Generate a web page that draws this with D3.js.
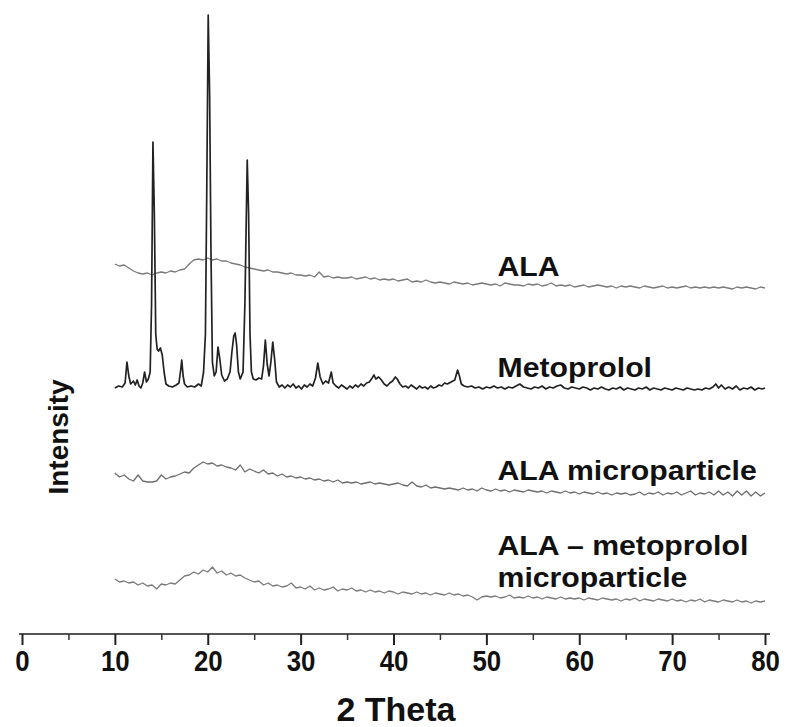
<!DOCTYPE html>
<html>
<head>
<meta charset="utf-8">
<script src="https://cdn.jsdelivr.net/npm/d3@7"></script>
<style type="text/css">
    body{ margin: 0; background: #fff; }
    svg text{ font-family: "Liberation Sans", Arial, sans-serif; font-weight: bold; fill: #111; }
    .trace{ fill: none; stroke-linejoin: round; }
</style>
</head>
<body>
<script type="text/javascript">
var width = 787,
    height = 727;

// 2 theta sampling of the three amorphous scans
var scanAngles = [
    10, 10.5, 11, 11.5, 12, 12.5, 13, 13.5, 14, 14.5,
    15, 15.5, 16, 16.5, 17, 17.5, 18, 18.5, 19, 19.5,
    20, 20.5, 21, 21.5, 22, 22.5, 23, 23.5, 24, 24.5,
    25, 25.5, 26, 26.5, 27, 27.5, 28, 28.5, 29, 29.5,
    30, 30.5, 31, 31.5, 32, 32.5, 33, 33.5, 34, 34.5,
    35, 35.5, 36, 36.5, 37, 37.5, 38, 38.5, 39, 39.5,
    40, 40.5, 41, 41.5, 42, 42.5, 43, 43.5, 44, 44.5,
    45, 45.5, 46, 46.5, 47, 47.5, 48, 48.5, 49, 49.5,
    50, 50.5, 51, 51.5, 52, 52.5, 53, 53.5, 54, 54.5,
    55, 55.5, 56, 56.5, 57, 57.5, 58, 58.5, 59, 59.5,
    60, 60.5, 61, 61.5, 62, 62.5, 63, 63.5, 64, 64.5,
    65, 65.5, 66, 66.5, 67, 67.5, 68, 68.5, 69, 69.5,
    70, 70.5, 71, 71.5, 72, 72.5, 73, 73.5, 74, 74.5,
    75, 75.5, 76, 76.5, 77, 77.5, 78, 78.5, 79, 79.5,
    80
];

// intensities (a.u., stacked)
var ala = [
    370, 368, 369, 366, 363, 361, 360, 361, 359, 361,
    362, 361, 363, 362, 364, 365, 370, 374, 375, 374,
    376, 374, 375, 373, 373, 371, 370, 369, 367, 366,
    365, 364, 363, 364, 362, 362, 361, 360, 361, 359,
    359, 358, 359, 357, 362, 357, 358, 356, 357, 356,
    356, 357, 355, 356, 357, 355, 356, 354, 355, 354,
    355, 353, 354, 355, 352, 353, 352, 354, 352, 351,
    352, 351, 350, 352, 351, 350, 351, 349, 350, 351,
    350, 349, 350, 348, 351, 350, 349, 349, 348, 350,
    349, 350, 348, 349, 351, 348, 349, 348, 349, 347,
    348, 349, 347, 348, 349, 348, 347, 348, 346, 348,
    347, 348, 347, 346, 348, 347, 346, 347, 348, 346,
    347, 346, 347, 348, 346, 347, 346, 347, 346, 347,
    346, 347, 346, 345, 347, 346, 347, 346, 345, 347,
    346
];

var alaMicro = [
    161, 157, 159, 155, 153, 159, 153, 152, 152, 153,
    159, 155, 157, 158, 160, 162, 161, 166, 169, 172,
    170, 171, 168, 169, 167, 166, 164, 169, 162, 165,
    163, 161, 164, 160, 161, 158, 160, 157, 158, 156,
    157, 155, 156, 154, 155, 153, 154, 152, 154, 151,
    152, 151, 152, 150, 151, 152, 150, 151, 150, 149,
    150, 151, 149, 148, 152, 148, 147, 149, 146, 147,
    146, 145, 146, 145, 144, 146, 144, 145, 143, 146,
    144, 143, 145, 143, 144, 142, 144, 143, 142, 144,
    143, 142, 143, 141, 143, 142, 141, 143, 141, 142,
    140, 142, 141, 140, 142, 140, 141, 139, 141, 140,
    141, 139, 140, 142, 139, 141, 140, 142, 139, 141,
    140, 142, 139, 141, 143, 139, 141, 140, 142, 139,
    143, 139, 142, 138, 143, 139, 143, 138, 142, 138,
    141
];

var alaMetoMicro = [
    55, 52, 53, 51, 52, 49, 51, 48, 49, 45,
    50, 49, 51, 50, 54, 58, 59, 62, 60, 64,
    62, 67, 61, 63, 59, 61, 58, 59, 56, 54,
    52, 53, 49, 51, 48, 49, 47, 48, 51, 46,
    47, 45, 48, 44, 46, 44, 45, 47, 43, 45,
    44, 46, 43, 44, 42, 44, 42, 43, 41, 43,
    42, 40, 42, 41, 40, 42, 40, 41, 39, 41,
    40, 39, 41, 39, 40, 38, 39, 37, 34, 37,
    38, 37, 38, 36, 37, 39, 36, 37, 36, 38,
    36, 37, 35, 37, 36, 35, 37, 35, 36, 35,
    36, 34, 36, 35, 34, 36, 35, 34, 35, 33,
    35, 34, 36, 33, 35, 34, 33, 35, 34, 33,
    35, 33, 34, 32, 34, 33, 35, 32, 34, 33,
    32, 34, 33, 32, 34, 32, 33, 31, 33, 32,
    33
];

// metoprolol scan: [2 theta, intensity]
var metoprolol = [
    [10.0,246],[10.4,248],[10.8,247],[11.1,251],[11.3,272],[11.5,258],[11.7,250],[12.0,253],[12.2,249],[12.4,254],
    [12.6,248],[12.8,246],[13.0,251],[13.2,262],[13.4,252],[13.6,255],[13.8,262],[13.95,330],[14.1,492],[14.25,420],
    [14.4,300],[14.55,285],[14.7,283],[14.9,286],[15.1,279],[15.3,262],[15.5,250],[15.8,248],[16.2,247],[16.6,249],
    [16.9,251],[17.1,265],[17.2,274],[17.35,258],[17.5,250],[17.8,247],[18.2,248],[18.6,247],[19.0,250],[19.3,248],
    [19.55,262],[19.75,300],[19.9,450],[20.05,619],[20.2,540],[20.35,380],[20.5,272],[20.7,258],[20.9,262],[21.1,287],
    [21.3,275],[21.5,259],[21.8,253],[22.1,255],[22.4,262],[22.6,282],[22.8,298],[22.95,301],[23.1,290],[23.3,262],
    [23.5,255],[23.8,262],[24.0,330],[24.25,474],[24.4,420],[24.55,300],[24.7,262],[24.9,255],[25.2,254],[25.5,256],
    [25.8,255],[26.0,268],[26.2,294],[26.4,270],[26.6,258],[26.8,272],[27.0,292],[27.2,275],[27.4,252],[27.7,247],
    [28.0,249],[28.3,246],[28.6,249],[28.9,247],[29.2,250],[29.5,246],[29.8,248],[30.1,245],[30.4,249],[30.7,247],
    [31.0,250],[31.3,248],[31.6,256],[31.85,271],[32.1,257],[32.4,250],[32.7,253],[33.0,251],[33.3,262],[33.5,251],
    [33.8,248],[34.1,246],[34.4,249],[34.7,247],[35.0,245],[35.3,248],[35.6,246],[35.9,249],[36.2,247],[36.5,250],
    [36.8,248],[37.1,251],[37.4,252],[37.7,256],[37.9,259],[38.1,255],[38.4,257],[38.7,254],[39.0,250],[39.3,248],
    [39.6,251],[39.9,253],[40.2,257],[40.4,255],[40.7,250],[41.0,247],[41.3,248],[41.6,246],[41.9,249],[42.2,247],
    [42.5,245],[42.8,248],[43.1,246],[43.4,247],[43.7,245],[44.0,248],[44.3,246],[44.6,247],[44.9,249],[45.2,248],
    [45.5,251],[45.8,250],[46.2,252],[46.6,254],[46.9,264],[47.1,258],[47.3,250],[47.6,248],[48.0,247],[48.4,248],
    [48.8,246],[49.2,247],[49.6,245],[50.0,247],[50.4,246],[50.8,248],[51.2,246],[51.6,247],[52.0,245],[52.4,247],
    [52.8,246],[53.2,248],[53.6,250],[54.0,247],[54.4,246],[54.8,245],[55.2,247],[55.6,246],[56.0,248],[56.4,245],
    [56.8,247],[57.2,246],[57.6,248],[58.0,249],[58.4,246],[58.8,245],[59.2,247],[59.6,246],[60.0,245],[60.4,247],
    [60.8,246],[61.2,244],[61.6,246],[62.0,245],[62.4,247],[62.8,245],[63.2,244],[63.6,246],[64.0,245],[64.4,247],
    [64.8,244],[65.2,246],[65.6,245],[66.0,244],[66.4,246],[66.8,245],[67.2,247],[67.6,244],[68.0,246],[68.4,245],
    [68.8,244],[69.2,246],[69.6,245],[70.0,244],[70.4,246],[70.8,245],[71.2,244],[71.6,246],[72.0,245],[72.4,244],
    [72.8,245],[73.2,244],[73.6,246],[74.0,245],[74.4,247],[74.7,250],[75.0,246],[75.3,249],[75.7,245],[76.1,247],
    [76.5,245],[76.9,248],[77.3,244],[77.7,246],[78.1,245],[78.5,247],[78.9,244],[79.3,246],[79.7,245],[80.0,246]
];

var xTicks = [0, 10, 20, 30, 40, 50, 60, 70, 80];

var labels = [
    { 'lines': ['ALA'], 'theta': 51.2, 'y': 358 },
    { 'lines': ['Metoprolol'], 'theta': 51.2, 'y': 257 },
    { 'lines': ['ALA microparticle'], 'theta': 51.2, 'y': 154 },
    { 'lines': ['ALA \u2013 metoprolol', 'microparticle'], 'theta': 51.2, 'y': 79 }
];

var x = d3.scaleLinear().domain([0, 80]).range([22, 765]);
var y = d3.scaleLinear().domain([0, 630]).range([634, 4]);

var svg = d3.select('body')
    .append('svg')
        .attr('width', width)
        .attr('height', height);

var line = d3.line()
    .x(function(d){ return x(d[0]); })
    .y(function(d){ return y(d[1]); });

function pairs(values){
    return scanAngles.map(function(a, i){ return [a, values[i]]; });
}

var traces = [
    { 'data': pairs(ala), 'color': '#7a7a7a', 'w': 1.3 },
    { 'data': metoprolol, 'color': '#222', 'w': 1.7 },
    { 'data': pairs(alaMicro), 'color': '#6e6e6e', 'w': 1.3 },
    { 'data': pairs(alaMetoMicro), 'color': '#7a7a7a', 'w': 1.3 }
];

svg.selectAll('path.trace')
    .data(traces)
    .enter()
    .append('path')
        .attr('class', 'trace')
        .attr('d', function(d){ return line(d.data); })
        .attr('stroke', function(d){ return d.color; })
        .attr('stroke-width', function(d){ return d.w; });

// bottom axis
var axis = svg.append('g')
    .attr('transform', 'translate(0,' + y(0) + ')');

axis.append('line')
    .attr('x1', x(0) - 3).attr('x2', x(80) + 5)
    .attr('stroke', '#555').attr('stroke-width', 2.2);

axis.call(d3.axisBottom(x).tickValues(xTicks).tickSize(11).tickSizeOuter(0).tickPadding(6))
    .call(function(g){ g.select('.domain').remove(); })
    .call(function(g){ g.selectAll('.tick line').attr('stroke', '#222').attr('stroke-width', 2); })
    .call(function(g){ g.selectAll('.tick text').attr('font-size', 30).attr('fill', '#111')
        .attr('transform', 'scale(0.86,1)').attr('dy', '0.68em')
        .attr('font-family', '"Liberation Sans", Arial, sans-serif').attr('font-weight', 'bold'); });

axis.append('g')
    .call(d3.axisBottom(x).tickValues(d3.range(5, 80, 10)).tickSize(6).tickFormat(''))
    .call(function(g){ g.select('.domain').remove(); })
    .call(function(g){ g.selectAll('.tick line').attr('stroke', '#333').attr('stroke-width', 1.5); });

svg.append('text')
    .attr('x', 396)
    .attr('y', 721)
    .attr('text-anchor', 'middle')
    .attr('font-size', 34)
    .text('2 Theta');

svg.append('text')
    .attr('transform', 'translate(68,437) rotate(-90)')
    .attr('text-anchor', 'middle')
    .attr('font-size', 28)
    .text('Intensity');

// series names
labels.forEach(function(l){
    var t = svg.append('text')
        .attr('transform', 'translate(' + x(l.theta) + ',' + y(l.y) + ') scale(1.12,1)')
        .attr('font-size', 27);
    l.lines.forEach(function(s, i){
        t.append('tspan')
            .attr('x', 0)
            .attr('dy', i === 0 ? 0 : 32)
            .text(s);
    });
});
</script>
</body>
</html>
